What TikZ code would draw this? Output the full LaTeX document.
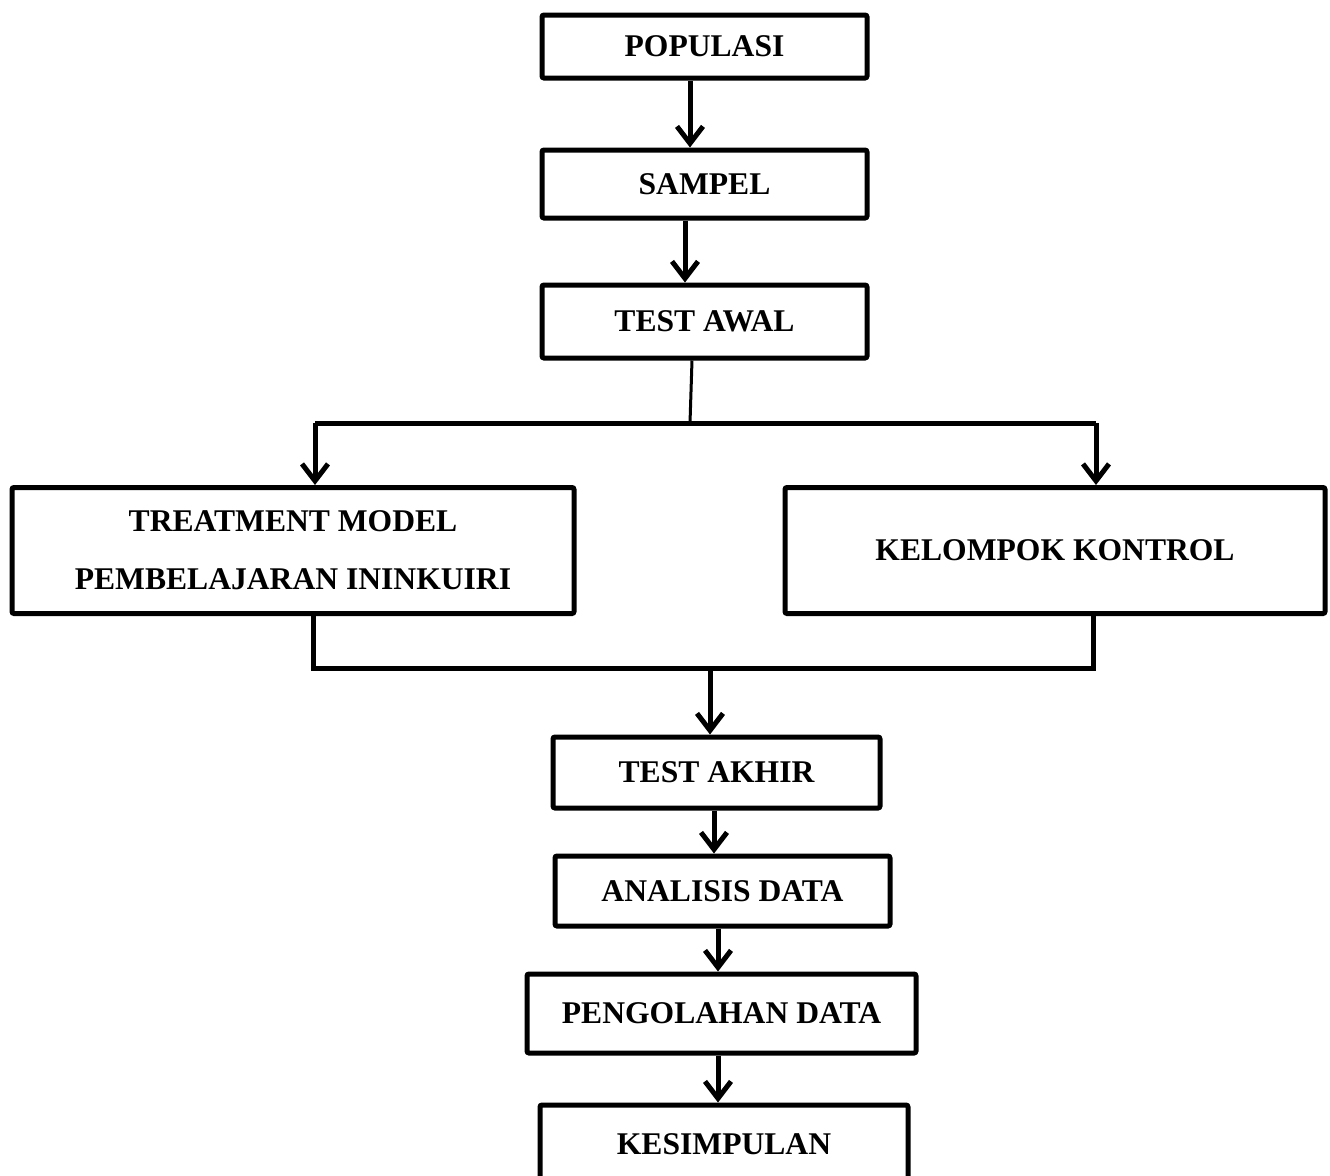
\documentclass[tikz,border=0pt]{standalone}
\usepackage{fontspec}
\setmainfont{Liberation Serif}
\usetikzlibrary{arrows.meta}
\begin{document}
\begin{tikzpicture}[x=0.5pt,y=-0.5pt,
  box/.style={draw=black, line width=2.5pt, rectangle, rounded corners=1pt, inner sep=0pt,
    font=\fontsize{15.8}{29}\selectfont\bfseries, align=center},
  arr/.style={line width=2.5pt, -{Straight Barb[length=8.5pt,width=13pt,line width=2.5pt]}},
  conn/.style={line width=2.5pt},
  thin/.style={line width=1.5pt}]
\useasboundingbox (0,0) rectangle (1330,1175);
\fill[white] (0,0) rectangle (1330,1175);
\node[box, minimum width=162.5pt, minimum height=31.5pt] (pop) at (704.5,46.5) {POPULASI};
\node[box, minimum width=162.5pt, minimum height=34pt] (samp) at (704.5,184) {SAMPEL};
\node[box, minimum width=162.5pt, minimum height=36.5pt] (awal) at (704.5,321.5) {TEST AWAL};
\node[box, minimum width=281pt, minimum height=63pt] (treat) at (293,550.5) {TREATMENT MODEL\\PEMBELAJARAN ININKUIRI};
\node[box, minimum width=270pt, minimum height=63pt] (kontrol) at (1055,550.5) {KELOMPOK KONTROL};
\node[box, minimum width=163.5pt, minimum height=35.5pt] (akhir) at (716.5,772.5) {TEST AKHIR};
\node[box, minimum width=167.5pt, minimum height=35pt] (analisis) at (722.5,891) {ANALISIS DATA};
\node[box, minimum width=194.5pt, minimum height=39.5pt] (olah) at (721.5,1013.5) {PENGOLAHAN DATA};
\node[box, minimum width=184pt, minimum height=44pt, text depth=0pt] (simpul) at (724,1149) {\raisebox{5pt}{KESIMPULAN}};
% arrows
\draw[arr] ([xshift=-7.25pt]pop.south) -- ([xshift=-7.25pt]samp.north);
\draw[arr] ([xshift=-9.75pt]samp.south) -- ([xshift=-9.75pt]awal.north);
\coordinate (split) at (690,423);
\coordinate (sl) at (315,423);
\coordinate (sr) at (1096,423);
\draw[thin] ([xshift=-6.25pt]awal.south) -- (split);
\draw[conn] (sl) -- (sr);
\draw[arr] (sl) -- (sl |- treat.north);
\draw[arr] (sr) -- (sr |- kontrol.north);
\coordinate (ml) at (313,668);
\coordinate (mr) at (1093,668);
\coordinate (merge) at (710,668);
\draw[conn] (ml |- treat.south) -- (ml) -- (mr) -- (mr |- kontrol.south);
\draw[arr] (merge) -- (merge |- akhir.north);
\draw[arr] ([xshift=-1.25pt]akhir.south) -- ([xshift=-1.25pt]akhir.south |- analisis.north);
\draw[arr] ([xshift=-2.25pt]analisis.south) -- ([xshift=-2.25pt]analisis.south |- olah.north);
\draw[arr] ([xshift=-1.75pt]olah.south) -- ([xshift=-1.75pt]olah.south |- simpul.north);
\end{tikzpicture}
\end{document}
